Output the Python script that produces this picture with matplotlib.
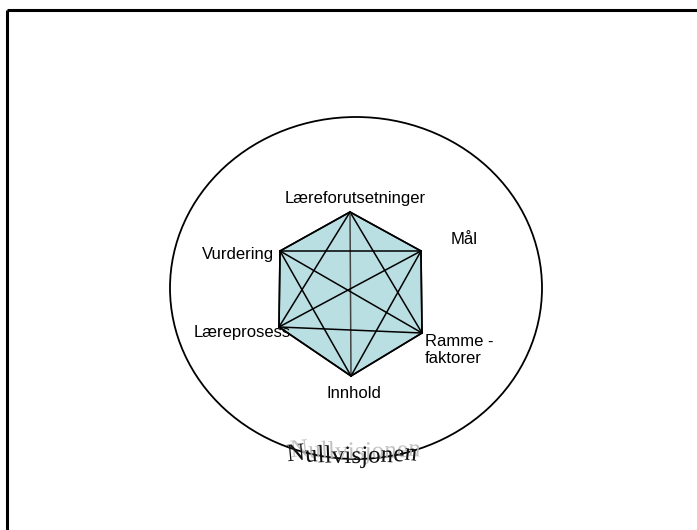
import matplotlib
matplotlib.use('Agg')
import matplotlib.pyplot as plt
import matplotlib.patheffects as pe
from matplotlib.patches import Ellipse, Polygon
import numpy as np

# hexagon corners (pixel coords of the slide, y downward)
hex_x = [350, 421, 422, 351, 279, 280]
hex_y = [212, 251, 333, 376, 327, 251]

labels = ['Læreforutsetninger', 'Mål', 'Ramme -\nfaktorer', 'Innhold', 'Læreprosess', 'Vurdering']
label_x = [355, 464, 425, 354, 194, 274]
label_y = [203, 244, 363, 398, 337, 259]
label_ha = ['center', 'center', 'left', 'center', 'left', 'right']

ell_center = (356, 288)
ell_w, ell_h = 372, 342

title_word = 'Nullvisjonen'

fig = plt.figure(figsize=(6.97, 5.30), dpi=100)
ax = fig.add_axes([0, 0, 1, 1])
ax.set_xlim(0, 697)
ax.set_ylim(530, 0)
ax.axis('off')

# frame (only top and left edges visible)
ax.plot([7, 697], [10, 10], color='black', lw=2.2, solid_capstyle='butt')
ax.plot([7, 7], [10, 530], color='black', lw=2.2, solid_capstyle='butt')

ax.add_patch(Ellipse(ell_center, ell_w, ell_h, fill=False, edgecolor='black', lw=1.3))

ax.add_patch(Polygon(list(zip(hex_x, hex_y)), closed=True, facecolor='#BADFE3', edgecolor='black', lw=1.2))
n = len(hex_x)
for i in range(n):
    for j in range(i + 1, n):
        c = '#444444' if (i, j) == (0, 3) else 'black'
        ax.plot([hex_x[i], hex_x[j]], [hex_y[i], hex_y[j]], color=c, lw=1.1)

for t, x, y, ha in zip(labels, label_x, label_y, label_ha):
    ax.text(x, y, t, ha=ha, va='baseline', fontsize=12, family='Liberation Sans',
            linespacing=1.2)

# word art along a shallow arc, with a light grey shadow
renderer = fig.canvas.get_renderer()
fs = 18
widths = []
for ch in title_word:
    tt = ax.text(0, 0, ch, fontsize=fs, family='Liberation Serif')
    widths.append(tt.get_window_extent(renderer).width)
    tt.remove()
total = sum(widths)
cx, base_y, R = 352, 463, 600
shadow = [pe.SimplePatchShadow(offset=(2.5, 3), shadow_rgbFace='#b8b8b8', alpha=0.85), pe.Normal()]
pos = -total / 2
for ch, w in zip(title_word, widths):
    s = pos + w / 2
    a = s / R
    x = cx + R * np.sin(a)
    y = base_y - R * (1 - np.cos(a))
    rot = -np.degrees(a)
    ax.text(x, y, ch, fontsize=fs, family='Liberation Serif', color='#111111',
            ha='center', va='baseline', rotation=rot, rotation_mode='anchor',
            path_effects=shadow)
    pos += w

fig.savefig('out.png', dpi=100)
